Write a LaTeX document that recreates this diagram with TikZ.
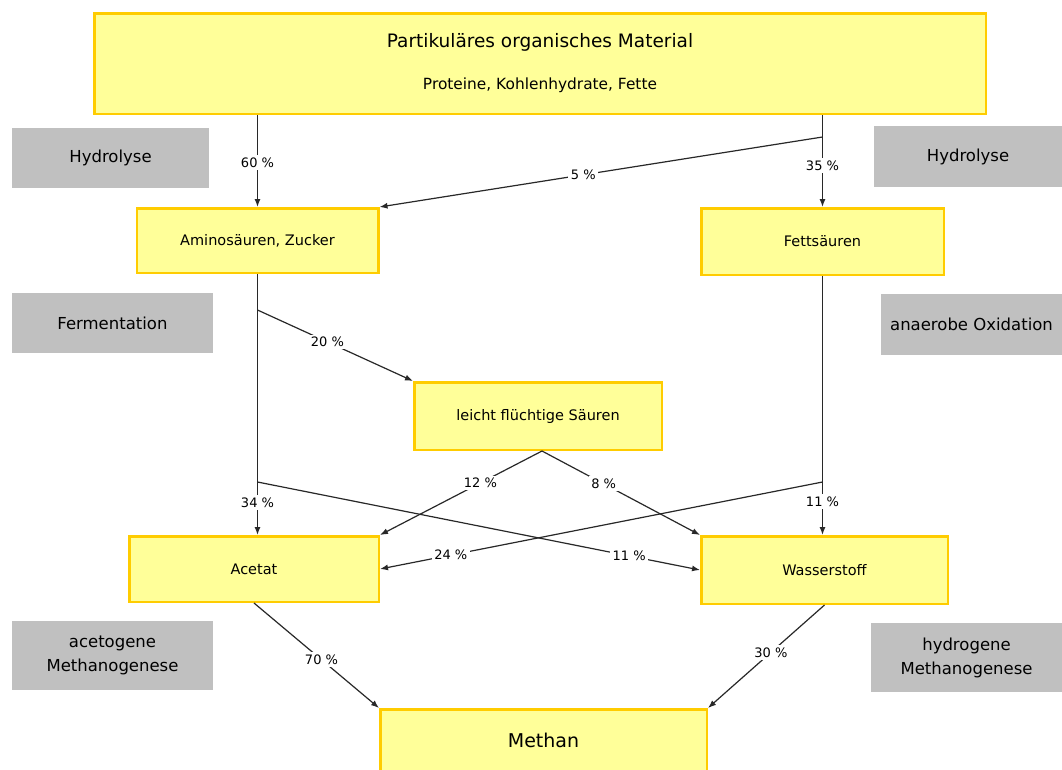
\documentclass[tikz,border=0pt]{standalone}
\usepackage{fontspec}
\setmainfont{DejaVu Sans}
\usetikzlibrary{arrows.meta,positioning}

\definecolor{boxfill}{RGB}{255,255,153}
\definecolor{boxline}{RGB}{255,204,0}
\definecolor{phasegray}{RGB}{192,192,192}
\definecolor{flowline}{RGB}{40,40,40}
\tikzstyle{stoff} = [draw=boxline, fill=boxfill, line width=2.5pt, inner sep=0pt, font=\fontsize{14.5}{17}\selectfont]
\tikzstyle{phase} = [fill=phasegray, inner sep=0pt, align=center, font=\fontsize{16.5}{24}\selectfont]
\tikzstyle{flow} = [draw=flowline, line width=1.2pt, -{Latex[length=8pt,width=6pt]}]
\tikzstyle{anteil} = [fill=white, inner sep=2.5pt, font=\fontsize{13}{15}\selectfont]

\begin{document}
\begin{tikzpicture}[x=1pt, y=-1pt]
    % page
    \clip (0,0) rectangle (1062,769);
    \fill[white] (0,0) rectangle (1062,769);

    % substances
    \node[stoff, minimum width=891.5pt, minimum height=100.5pt, align=center, font=\fontsize{15.4}{18}\selectfont] (material) at (540,63.5)
        {{\fontsize{18.5}{22}\selectfont Partikuläres organisches Material}\\[24pt]Proteine, Kohlenhydrate, Fette};
    \node[stoff, minimum width=241.5pt, minimum height=64.5pt] (amino) at (257.5,240.5) {Aminosäuren, Zucker};
    \node[stoff, minimum width=242.5pt, minimum height=66.5pt] (fett) at (822.5,241.5) {Fettsäuren};
    \node[stoff, minimum width=247.5pt, minimum height=67.5pt] (leicht) at (538,416) {leicht flüchtige Säuren};
    \node[stoff, minimum width=249.5pt, minimum height=65.5pt] (acetat) at (254,569) {Acetat};
    \node[stoff, minimum width=246.5pt, minimum height=67.5pt] (wasser) at (824.5,570) {Wasserstoff};
    \node[stoff, minimum width=326.5pt, minimum height=61.5pt, font=\fontsize{19}{22}\selectfont] (methan) at (543.5,740) {Methan};

    % process steps
    \node[phase, minimum width=197pt, minimum height=60pt] (hydroL) at (110.5,158) {Hydrolyse};
    \node[phase, minimum width=188pt, minimum height=61pt] (hydroR) at (968,156.5) {Hydrolyse};
    \node[phase, minimum width=201pt, minimum height=60pt] (ferm) at (112.5,323) {Fermentation};
    \node[phase, minimum width=181pt, minimum height=61pt] (oxid) at (971.5,324.5) {anaerobe Oxidation};
    \node[phase, minimum width=201pt, minimum height=69pt] (acmeth) at (112.5,655.5) {acetogene\\Methanogenese};
    \node[phase, minimum width=191pt, minimum height=69pt] (hymeth) at (966.5,657.5) {hydrogene\\Methanogenese};

    % branch points
    \coordinate (abzw1) at (fett.north |- 0,137);
    \coordinate (abzw2) at (amino.south |- 0,310);
    \coordinate (abzw3) at (amino.south |- 0,482);
    \coordinate (abzw4) at (fett.south |- 0,482);

    % hydrolysis
    \draw[flow] (amino.north |- material.south) -- node[anteil, pos=0.52] {60 \%} (amino.north);
    \draw[flow] (fett.north |- material.south) -- node[anteil, pos=0.55] {35 \%} (fett.north);
    \draw[flow] (abzw1) -- node[anteil, pos=0.54] {5 \%} (amino.north east);

    % fermentation
    \draw[flow] (amino.south) -- node[anteil, pos=0.876] {34 \%} (amino.south |- acetat.north);
    \draw[flow] (abzw2) -- node[anteil, pos=0.45] {20 \%} (leicht.north west);
    \draw[flow] (abzw3) -- node[anteil, pos=0.84] {11 \%} (wasser.west);

    % anaerobic oxidation
    \draw[flow] (fett.south) -- node[anteil, pos=0.87] {11 \%} (fett.south |- wasser.north);
    \draw[flow] (abzw4) -- node[anteil, pos=0.84] {24 \%} (acetat.east);

    % volatile acids
    \draw[flow] ([xshift=4pt]leicht.south) -- node[anteil, pos=0.38] {12 \%} (acetat.north east);
    \draw[flow] ([xshift=4pt]leicht.south) -- node[anteil, pos=0.39] {8 \%} (wasser.north west);

    % methanogenesis
    \draw[flow] (acetat.south) -- node[anteil, pos=0.54] {70 \%} (methan.north west);
    \draw[flow] (wasser.south) -- node[anteil, pos=0.46] {30 \%} (methan.north east);
\end{tikzpicture}
\end{document}
